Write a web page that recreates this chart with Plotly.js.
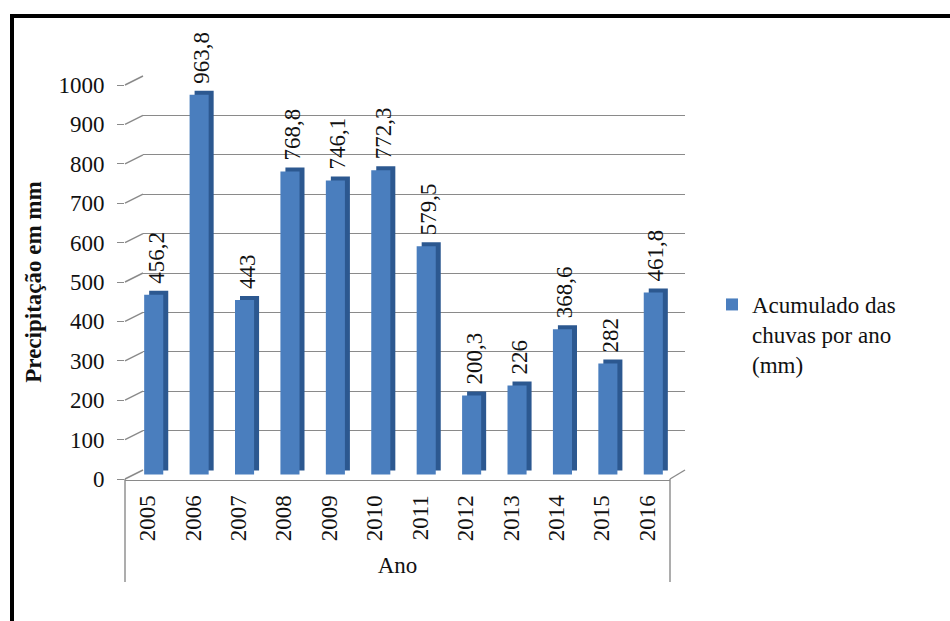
<!DOCTYPE html>
<html>
<head>
<meta charset="utf-8">
<script src="https://cdn.plot.ly/plotly-3.0.1.min.js"></script>
<style>
  html, body { margin: 0; padding: 0; background: #ffffff; }
  #chart { width: 950px; height: 621px; }
</style>
</head>
<body>
<div id="chart"></div>
<script>
// Annual accumulated rainfall (mm)
const anos = ['2005', '2006', '2007', '2008', '2009', '2010', '2011', '2012', '2013', '2014', '2015', '2016'];
const precipitacao = [456.2, 963.8, 443, 768.8, 746.1, 772.3, 579.5, 200.3, 226, 368.6, 282, 461.8];
const yTicks = [0, 100, 200, 300, 400, 500, 600, 700, 800, 900, 1000];
const nomeSerie = 'Acumulado das<br>chuvas por ano<br>(mm)';
const tituloY = 'Precipitação em mm';
const tituloX = 'Ano';

// Data labels use a decimal comma
const rotulos = precipitacao.map(v => String(v).replace('.', ','));

// ---- page geometry (pixels) for the pseudo-3D look ----
const W = 950, H = 621;
const fx = p => p / W;
const fy = p => 1 - p / H;
const PX_PER_UNIT = 0.394;          // vertical pixels per mm of rain
const RANGE = [-2, 1002];
const FRONT = { left: 125, right: 670, zero: 479 };   // front plane (axes)
const BACK  = { left: 143, right: 685, zero: 470 };   // back wall (gridlines)
const BAR_DX = 6, BAR_DY = 4.5;     // bars sit between front and back planes
const SIDE_DX = 5, SIDE_DY = 4;     // bar depth (side / top faces)
const LABEL_DX = 2.5, LABEL_DY = 8; // value labels: centred on the bar, lifted above it

function yDomain(zeroPx) {
  const bottom = zeroPx - RANGE[0] * PX_PER_UNIT;
  const top = zeroPx - RANGE[1] * PX_PER_UNIT;
  return [fy(bottom), fy(top)];
}
function xDomain(left, right) { return [fx(left), fx(right)]; }

const serif = 'Liberation Serif';
const ink = '#111111';
const gridGrey = '#8a8a8a';
const catRange = [-0.5, anos.length - 0.5];
const txt = (size, extra) => Object.assign({ family: serif, size: size, color: ink }, extra || {});

const hiddenX = (dom, anchor) => ({
  domain: dom, anchor: anchor, type: 'category', range: catRange,
  visible: false, fixedrange: true
});
const hiddenY = (dom, anchor) => ({
  domain: dom, anchor: anchor, range: RANGE, visible: false, fixedrange: true
});

const traces = [
  // back wall carrier (gridlines only)
  { type: 'scatter', mode: 'none', x: anos, y: precipitacao, xaxis: 'x', yaxis: 'y',
    showlegend: false, hoverinfo: 'skip' },
  // front axes carrier (tick labels)
  { type: 'scatter', mode: 'none', x: anos, y: precipitacao, xaxis: 'x2', yaxis: 'y2',
    showlegend: false, hoverinfo: 'skip' },
  // bar depth: side and top faces
  { type: 'bar', x: anos, y: precipitacao, xaxis: 'x3', yaxis: 'y3',
    width: 0.42, marker: { color: '#2c5890', line: { width: 0 } },
    showlegend: false, hoverinfo: 'skip' },
  // bar front faces
  { type: 'bar', name: nomeSerie, x: anos, y: precipitacao, xaxis: 'x4', yaxis: 'y4',
    width: 0.42, marker: { color: '#4a7ebe', line: { width: 0 } },
    customdata: rotulos,
    hovertemplate: '%{x}: %{customdata} mm<extra></extra>' },
  // value labels
  { type: 'bar', x: anos, y: precipitacao, xaxis: 'x5', yaxis: 'y5',
    width: 0.42, marker: { color: 'rgba(0,0,0,0)', line: { width: 0 } },
    text: rotulos, textposition: 'outside', textangle: -90, constraintext: 'none',
    cliponaxis: false, textfont: txt(23),
    showlegend: false, hoverinfo: 'skip' }
];

// slanted tick connectors from the front axis to the back wall
const shapes = yTicks.map(v => ({
  type: 'line', xref: 'paper', yref: 'paper',
  x0: fx(FRONT.left), y0: fy(FRONT.zero - v * PX_PER_UNIT),
  x1: fx(BACK.left), y1: fy(BACK.zero - v * PX_PER_UNIT),
  line: { color: gridGrey, width: 1.4 }
}));
// floor right edge
shapes.push({ type: 'line', xref: 'paper', yref: 'paper',
  x0: fx(FRONT.right), y0: fy(FRONT.zero), x1: fx(BACK.right), y1: fy(BACK.zero),
  line: { color: gridGrey, width: 1.4 } });
// category band borders
[FRONT.left, FRONT.right].forEach(px => shapes.push({
  type: 'line', xref: 'paper', yref: 'paper',
  x0: fx(px), y0: fy(FRONT.zero), x1: fx(px), y1: fy(582),
  line: { color: gridGrey, width: 1.4 } }));
// outer frame
shapes.push({ type: 'rect', xref: 'paper', yref: 'paper',
  x0: fx(12), y0: fy(16), x1: 1.05, y1: -0.05,
  line: { color: '#000', width: 4 }, fillcolor: 'rgba(0,0,0,0)' });

const layout = {
  width: W, height: H,
  margin: { l: 0, r: 0, t: 0, b: 0 },
  paper_bgcolor: '#ffffff', plot_bgcolor: 'rgba(0,0,0,0)',
  font: txt(22),
  showlegend: true,
  legend: {
    x: fx(712), y: fy(283), xanchor: 'left', yanchor: 'top',
    valign: 'top', font: txt(23), bgcolor: 'rgba(0,0,0,0)'
  },
  // back wall
  xaxis: hiddenX(xDomain(BACK.left, BACK.right), 'y'),
  yaxis: {
    domain: yDomain(BACK.zero), anchor: 'x', range: RANGE, tickvals: yTicks,
    showgrid: true, gridcolor: gridGrey, gridwidth: 1.4,
    showticklabels: false, ticks: '', zeroline: false, showline: false, fixedrange: true
  },
  // front axes
  xaxis2: {
    domain: xDomain(FRONT.left, FRONT.right), anchor: 'y2', type: 'category', range: catRange,
    showline: true, linecolor: gridGrey, linewidth: 1.4, showgrid: false,
    ticks: '', tickangle: -90, ticklabelstandoff: 5,
    tickfont: txt(23),
    title: { text: tituloX, font: txt(23), standoff: 16 },
    fixedrange: true
  },
  yaxis2: {
    domain: yDomain(FRONT.zero), anchor: 'x2', range: RANGE, tickvals: yTicks,
    showgrid: false, zeroline: false, showline: false,
    ticks: 'outside', ticklen: 7, tickcolor: gridGrey, tickwidth: 1.4,
    ticklabelstandoff: 8,
    tickfont: txt(23),
    title: { text: tituloY, font: txt(23, { weight: 'bold' }), standoff: 10 },
    fixedrange: true
  },
  // bar side faces
  xaxis3: hiddenX(xDomain(FRONT.left + BAR_DX + SIDE_DX, FRONT.right + BAR_DX + SIDE_DX), 'y3'),
  yaxis3: hiddenY(yDomain(FRONT.zero - BAR_DY - SIDE_DY), 'x3'),
  // bar front faces
  xaxis4: hiddenX(xDomain(FRONT.left + BAR_DX, FRONT.right + BAR_DX), 'y4'),
  yaxis4: hiddenY(yDomain(FRONT.zero - BAR_DY), 'x4'),
  // value label layer
  xaxis5: hiddenX(xDomain(FRONT.left + BAR_DX + LABEL_DX, FRONT.right + BAR_DX + LABEL_DX), 'y5'),
  yaxis5: hiddenY(yDomain(FRONT.zero - BAR_DY - LABEL_DY), 'x5'),
  shapes: shapes
};

Plotly.newPlot('chart', traces, layout, { displayModeBar: false });
</script>
</body>
</html>
